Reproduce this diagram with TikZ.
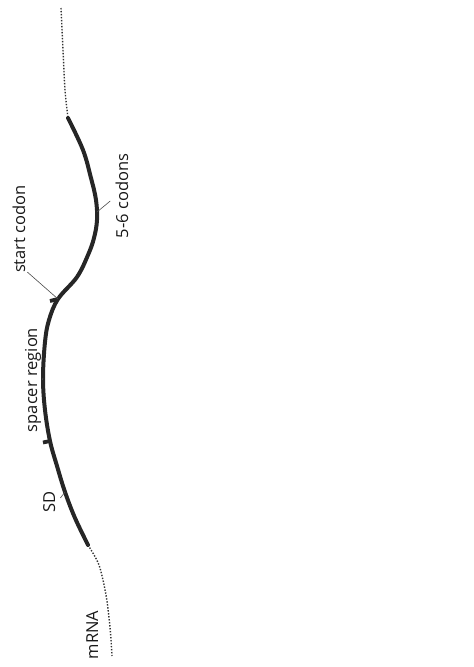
\documentclass[tikz,border=0pt]{standalone}
\usepackage{fontspec}
\setmainfont{Open Sans}
\usepackage{tikz}
\usetikzlibrary{positioning,calc}
\tikzstyle{strand} = [line width=4pt, line cap=round, line join=round, color=black!85]
\tikzstyle{tail} = [line width=1.4pt, dash pattern=on 1.4pt off 1.6pt, color=black!80]
\tikzstyle{label} = [rotate=90, anchor=base, inner sep=0pt, font=\fontsize{16.5}{18}\selectfont, color=black!90]
\tikzstyle{leader} = [line width=0.6pt, color=black!70]
\tikzstyle{tick} = [line width=3.8pt, color=black!85]

\begin{document}
\begin{tikzpicture}[x=1pt, y=-1pt]
	\useasboundingbox (0,0) rectangle (474,667);
	% points on the strand
	\coordinate (TopEnd) at (61,8);
	\coordinate (SolidStart) at (68,118);
	\coordinate (CodonsPt) at (97,212);
	\coordinate (StartPt) at (58,299);
	\coordinate (SpacerPt) at (43,378);
	\coordinate (SDStart) at (50,441);
	\coordinate (SDPt) at (65,492);
	\coordinate (SolidEnd) at (88,545);
	\coordinate (BottomEnd) at (112,656);
	
	\node [label] (MRNA) at (98,635) {mRNA};
	\node [label] (SD) at (55,502) {SD};
	\node [label] (Spacer) at (37,380) {spacer region};
	\node [label] (StartCodon) at (25,229) {start codon};
	\node [label] (Codons) at (128,196) {5-6 codons};
	
	\draw [tail] plot [smooth] coordinates {(TopEnd) (63,50) (65,90) (SolidStart)};
	\draw [strand] plot [smooth, tension=0.6] coordinates {(SolidStart) (83,150) (91,178) (96,200) (97,220) (94,238) (88,255) (77,277) (StartPt) (49,320) (45,342) (SpacerPt) (45,410) (SDStart) (57,466) (SDPt) (75,518) (SolidEnd)};
	\draw [tail] plot [smooth] coordinates {(SolidEnd) (99,565) (106,595) (110,627) (BottomEnd)};
	
	% codon marks
	\draw [tick] (StartPt) -- ++(-8,2);
	\draw [tick] (SDStart) -- ++(-7,1.5);
	
	\draw [leader] ($(Codons.north)+(-5,5)$) -- (CodonsPt);
	\draw [leader] ($(StartCodon.south west)+(2,-1)$) -- (StartPt);
	\draw [leader] ($(Spacer.south)+(1,0)$) -- (SpacerPt);
	\draw [leader] ($(SD.south)+(5,-4)$) -- (SDPt);
\end{tikzpicture}
\end{document}
